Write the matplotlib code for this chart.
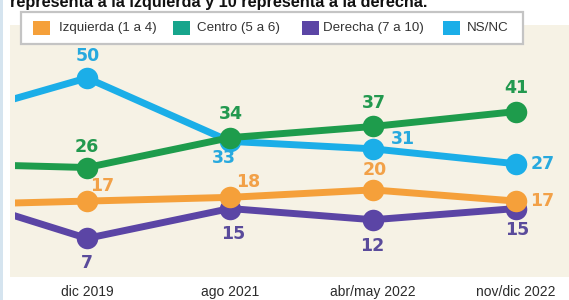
import matplotlib
matplotlib.use("Agg")
import matplotlib.pyplot as plt
from matplotlib.patches import Rectangle

# ---------------- data ----------------
periods = ["dic 2019", "ago 2021", "abr/may 2022", "nov/dic 2022"]
izquierda = [17, 18, 20, 17]
centro = [26, 34, 37, 41]
derecha = [7, 15, 12, 15]
nsnc = [50, 33, 31, 27]
# earlier survey, mostly cropped out of view on the left
prev_izquierda = 16
prev_centro = 27
prev_derecha = 19
prev_nsnc = 39

legend_labels = ["Izquierda (1 a 4)", "Centro (5 a 6)", "Derecha (7 a 10)", "NS/NC"]
title_text = "representa a la izquierda y 10 representa a la derecha."

# ---------------- styles ----------------
W, H = 569, 300
DPI = 100
PX = 72.0 / DPI  # points per pixel

c_izq, c_cen, c_der, c_ns = "#F5A03A", "#1E9C4C", "#5B45A5", "#1BAEE8"
t_izq, t_cen, t_der, t_ns = "#F2A148", "#22994F", "#5A4B9B", "#27A9DE"
leg_colors = ["#F5A03A", "#17A58C", "#5B45A5", "#1BAEE8"]

# label offsets in pixels (dx, dy up)
off_izq = [(15, 15), (18, 15), (2, 20), (26, 0)]
off_cen = [(0, 21), (1, 24), (1, 23), (0, 24)]
off_der = [(0, -25), (3, -25), (-1, -26), (1, -21)]
off_ns = [(1, 22), (-6, -17), (30, 10), (27, 0)]

fig = plt.figure(figsize=(W / DPI, H / DPI), dpi=DPI, facecolor="white")

# thin light strip on the far left
fig.patches.append(Rectangle((0, 0), 3 / W, 1, transform=fig.transFigure,
                             facecolor="#D5E4EF", edgecolor="none", zorder=0))

ax = fig.add_axes([10 / W, 1 - 277 / H, (W - 10) / W, 252 / H])
ax.set_facecolor("#F6F2E5")
for s in ax.spines.values():
    s.set_visible(False)

x = list(range(len(periods)))
xl = [-1] + x

clip = Rectangle((-0.5, -100), 20, 300, transform=ax.transData)

series = [
    (prev_nsnc, nsnc, c_ns, t_ns, off_ns, 2),
    (prev_derecha, derecha, c_der, t_der, off_der, 3),
    (prev_izquierda, izquierda, c_izq, t_izq, off_izq, 4),
    (prev_centro, centro, c_cen, t_cen, off_cen, 5),
]

for prev, vals, col, tcol, offs, z in series:
    line, = ax.plot(xl, [prev] + vals, color=col, lw=5.0, solid_capstyle="butt",
                    solid_joinstyle="round", zorder=z)
    line.set_clip_path(clip)
    ax.plot(x, vals, "o", color=col, ms=15.5, mew=0, zorder=z)
    for xi, v, (dx, dy) in zip(x, vals, offs):
        ax.annotate(str(v), (xi, v), xytext=(dx * PX, dy * PX), textcoords="offset points",
                    ha="center", va="center", fontsize=12.5, fontweight="bold",
                    color=tcol, family="DejaVu Sans", zorder=10)

ax.set_xlim(-0.538, 3.37)
ax.set_ylim(-3.35, 64.2)
ax.set_yticks([])
ax.set_xticks(x)
ax.set_xticklabels(periods, fontsize=10, color="#2B2B2B", family="Liberation Sans")
ax.tick_params(axis="x", length=0, pad=6)

# title (cropped at the top)
fig.text(10 / W, 1 - 7 / H, title_text, fontsize=11.7, fontweight="bold",
         family="Liberation Sans", color="#111111", va="baseline", ha="left")

# legend box
fig.patches.append(Rectangle((21 / W, 1 - 44 / H), (523 - 21) / W, 32 / H,
                             transform=fig.transFigure, facecolor="white",
                             edgecolor="#C4C4C4", lw=1.6, zorder=20))
sq_x = [33, 173, 302, 443]
tx_x = [59, 197, 323, 467]
for lab, col, sx, tx in zip(legend_labels, leg_colors, sq_x, tx_x):
    fig.patches.append(Rectangle((sx / W, 1 - 35 / H), 17 / W, 14 / H,
                                 transform=fig.transFigure, facecolor=col,
                                 edgecolor="none", zorder=21))
    fig.text(tx / W, 1 - 28 / H, lab, fontsize=9.6, family="Liberation Sans",
             color="#333333", va="center", ha="left", zorder=22)

fig.savefig("out.png", dpi=DPI, facecolor="white")
